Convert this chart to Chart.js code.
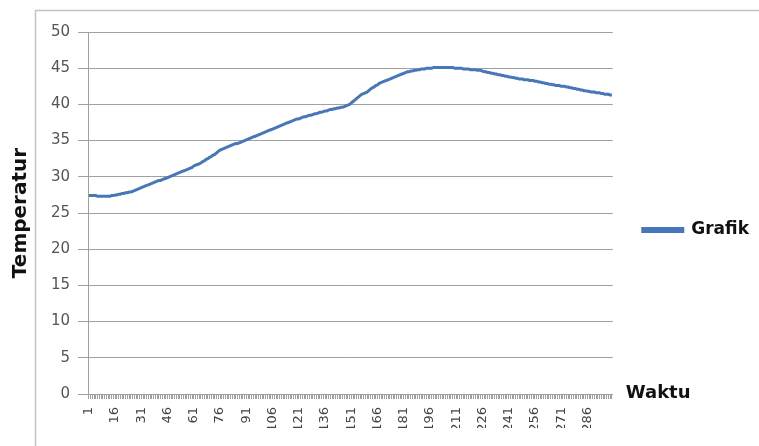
<!DOCTYPE html>
<html>
<head>
<meta charset="utf-8">
<script src="https://cdn.jsdelivr.net/npm/chart.js@4.4.1/dist/chart.umd.min.js"></script>
<style>
  html, body { margin: 0; padding: 0; background: #fff; }
  #wrap { width: 759px; height: 446px; position: relative; }
</style>
</head>
<body>
<div id="wrap"><canvas id="chart"></canvas></div>
<script>
// x categories: Waktu 1..300
const categories = Array.from({ length: 300 }, (_, i) => String(i + 1));
// labels Excel actually shows under the axis
const tickLabels = ['1', '16', '31', '46', '61', '76', '91', '106', '121', '136', '151',
  '166', '181', '196', '211', '226', '241', '256', '271', '286'];
const yTicks = [0, 5, 10, 15, 20, 25, 30, 35, 40, 45, 50];

// Temperatur (rows of 10 points)
const temperatur = [
  27.4, 27.4, 27.4, 27.4, 27.4, 27.3, 27.3, 27.3, 27.3, 27.3,
  27.3, 27.3, 27.3, 27.4, 27.4, 27.5, 27.5, 27.6, 27.6, 27.7,
  27.7, 27.8, 27.8, 27.9, 27.9, 28.0, 28.1, 28.2, 28.3, 28.4,
  28.5, 28.6, 28.7, 28.8, 28.9, 29.0, 29.1, 29.2, 29.3, 29.4,
  29.5, 29.5, 29.6, 29.7, 29.8, 29.9, 30.0, 30.1, 30.2, 30.3,
  30.4, 30.5, 30.6, 30.7, 30.8, 30.9, 31.0, 31.1, 31.2, 31.3,
  31.5, 31.6, 31.7, 31.8, 31.9, 32.1, 32.2, 32.4, 32.5, 32.7,
  32.8, 33.0, 33.1, 33.3, 33.5, 33.7, 33.8, 33.9, 34.0, 34.1,
  34.2, 34.3, 34.4, 34.5, 34.6, 34.6, 34.7, 34.8, 34.9, 35.0,
  35.1, 35.2, 35.3, 35.4, 35.5, 35.6, 35.7, 35.8, 35.9, 36.0,
  36.1, 36.2, 36.3, 36.4, 36.5, 36.6, 36.7, 36.8, 36.9, 37.0,
  37.1, 37.2, 37.3, 37.4, 37.5, 37.6, 37.7, 37.8, 37.9, 38.0,
  38.0, 38.1, 38.2, 38.3, 38.3, 38.4, 38.5, 38.5, 38.6, 38.7,
  38.7, 38.8, 38.9, 38.9, 39.0, 39.1, 39.1, 39.2, 39.3, 39.3,
  39.4, 39.4, 39.5, 39.5, 39.6, 39.6, 39.7, 39.8, 39.9, 40.0,
  40.2, 40.4, 40.6, 40.8, 41.0, 41.2, 41.4, 41.5, 41.6, 41.7,
  41.9, 42.1, 42.3, 42.4, 42.6, 42.7, 42.9, 43.0, 43.1, 43.2,
  43.3, 43.4, 43.5, 43.6, 43.7, 43.8, 43.9, 44.0, 44.1, 44.2,
  44.3, 44.4, 44.5, 44.5, 44.6, 44.6, 44.7, 44.7, 44.8, 44.8,
  44.9, 44.9, 44.9, 45.0, 45.0, 45.0, 45.0, 45.1, 45.1, 45.1,
  45.1, 45.1, 45.1, 45.1, 45.1, 45.1, 45.1, 45.1, 45.1, 45.0,
  45.0, 45.0, 45.0, 45.0, 44.9, 44.9, 44.9, 44.9, 44.8, 44.8,
  44.8, 44.8, 44.7, 44.7, 44.7, 44.6, 44.5, 44.5, 44.4, 44.4,
  44.3, 44.3, 44.2, 44.2, 44.1, 44.1, 44.0, 44.0, 43.9, 43.9,
  43.8, 43.8, 43.7, 43.7, 43.6, 43.6, 43.5, 43.5, 43.5, 43.4,
  43.4, 43.4, 43.3, 43.3, 43.3, 43.2, 43.2, 43.1, 43.1, 43.0,
  43.0, 42.9, 42.9, 42.8, 42.8, 42.7, 42.7, 42.6, 42.6, 42.6,
  42.5, 42.5, 42.5, 42.4, 42.4, 42.3, 42.3, 42.2, 42.2, 42.1,
  42.1, 42.0, 42.0, 41.9, 41.9, 41.8, 41.8, 41.7, 41.7, 41.7,
  41.6, 41.6, 41.6, 41.5, 41.5, 41.4, 41.4, 41.4, 41.3, 41.3
];

const lineColor = '#4677b8';
const gridColor = '#a0a0a0';

// outer chart frame + "Waktu" label to the right of the x axis
const extras = {
  id: 'extras',
  beforeDraw(chart) {
    const ctx = chart.ctx;
    ctx.save();
    ctx.strokeStyle = '#c4c4c4';
    ctx.lineWidth = 1.5;
    ctx.strokeRect(35.5, 10.5, 1000, 1000);
    ctx.restore();
  },
  afterDraw(chart) {
    const ctx = chart.ctx;
    const a = chart.chartArea;
    ctx.save();
    ctx.fillStyle = '#111';
    ctx.font = 'bold 18px "DejaVu Sans"';
    ctx.textAlign = 'left';
    ctx.textBaseline = 'middle';
    ctx.fillText('Waktu', a.right + 13, a.bottom - 1);
    ctx.restore();
  }
};

new Chart(document.getElementById('chart'), {
  type: 'line',
  data: {
    labels: categories,
    datasets: [{
      label: 'Grafik',
      data: temperatur,
      borderColor: lineColor,
      backgroundColor: lineColor,
      borderWidth: 3,
      pointRadius: 0,
      tension: 0
    }]
  },
  options: {
    responsive: true,
    maintainAspectRatio: false,
    animation: false,
    layout: { padding: { top: 32, right: 0, bottom: 18, left: 0 } },
    scales: {
      x: {
        offset: true,
        afterFit: (s) => { s.height = 34; },
        grid: { drawOnChartArea: false, drawTicks: true, tickLength: 5, color: gridColor },
        border: { color: gridColor },
        ticks: {
          autoSkip: false,
          minRotation: 90,
          maxRotation: 90,
          padding: 8,
          color: '#444',
          font: { family: 'DejaVu Sans', size: 13 },
          callback: function (v, i) {
            const l = this.getLabelForValue(v);
            return tickLabels.includes(l) ? l : '';
          }
        }
      },
      y: {
        min: 0,
        max: 50,
        afterFit: (s) => { s.width = 88; },
        afterBuildTicks: (s) => { s.ticks = yTicks.map(v => ({ value: v })); },
        grid: { color: gridColor, tickLength: 10 },
        border: { color: gridColor },
        ticks: {
          padding: 8,
          color: '#555',
          font: { family: 'DejaVu Sans', size: 15 }
        },
        title: {
          display: true,
          text: 'Temperatur',
          color: '#111',
          padding: { top: 9, bottom: 0 },
          font: { family: 'DejaVu Sans', size: 20, weight: 'bold' }
        }
      },
      // empty spacer between plot and legend (room for "Waktu")
      gap: {
        type: 'linear',
        position: 'right',
        afterFit: (s) => { s.width = 20; },
        grid: { display: false },
        border: { display: false },
        ticks: { display: false }
      }
    },
    plugins: {
      legend: {
        position: 'right',
        labels: {
          boxWidth: 40,
          boxHeight: 3,
          color: '#111',
          padding: 10,
          font: { family: 'DejaVu Sans', size: 17, weight: 'bold' }
        }
      },
      tooltip: { enabled: false }
    }
  },
  plugins: [extras]
});
</script>
</body>
</html>
